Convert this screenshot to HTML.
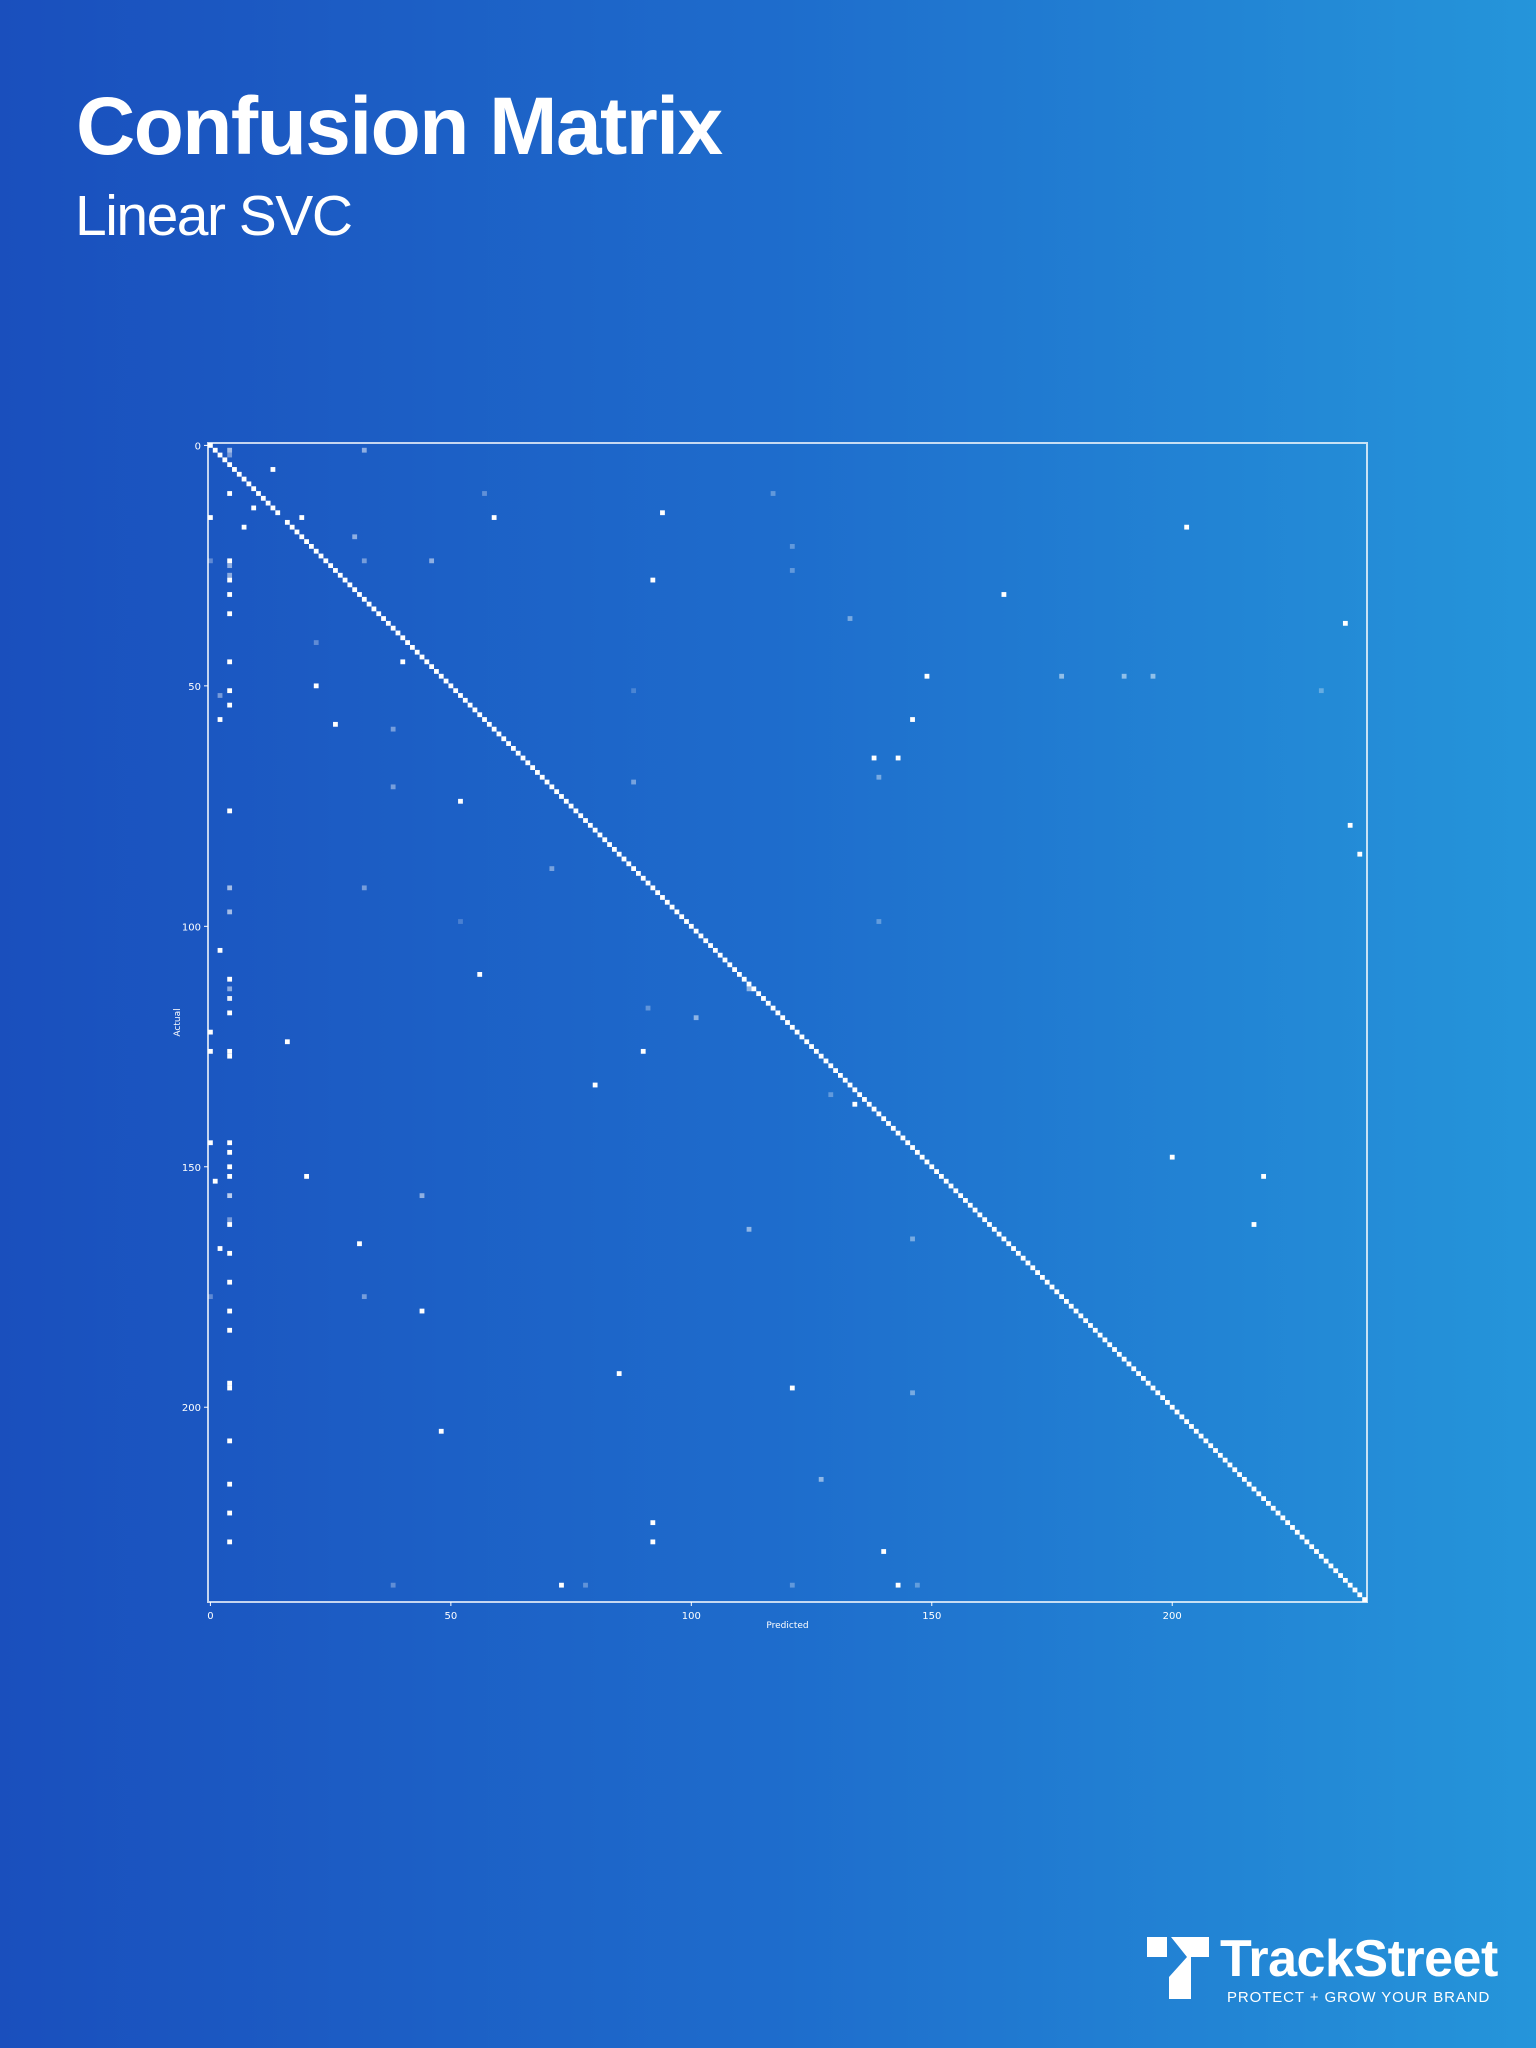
<!DOCTYPE html>
<html><head><meta charset="utf-8"><style>
html,body{margin:0;padding:0}
body{width:1536px;height:2048px;position:relative;overflow:hidden;background:linear-gradient(90deg,#1a4fbd 0%,#1e6ccc 50%,#2595da 100%);font-family:"Liberation Sans",sans-serif;color:#fff}
#title{position:absolute;left:76px;top:80px;font-size:82px;font-weight:bold;margin:0;letter-spacing:-1.5px}
#sub{position:absolute;left:75px;top:183px;font-size:57px;font-weight:normal;margin:0;letter-spacing:-1.5px}
#chart{position:absolute;left:0;top:0}
#logo{position:absolute;left:1147px;top:1937px}
</style></head><body>
<h1 id="title">Confusion Matrix</h1>
<h2 id="sub">Linear SVC</h2>
<svg id="chart" width="1536" height="2048"></svg>
<div id="logo">
<svg width="62" height="62" style="position:absolute;left:0;top:0">
<polygon points="0,0 20,0 20,20 0,20" fill="#fff"/><polygon points="24,0 62,0 62,20 44,20 44,62 22,62 22,40 40,20 24,0" fill="#fff"/></svg>
<div style="position:absolute;left:73px;top:-8px;font-size:52px;font-weight:bold;white-space:nowrap;letter-spacing:-0.5px">TrackStreet</div>
<div style="position:absolute;left:80px;top:52px;font-size:15px;white-space:nowrap;letter-spacing:0.9px">PROTECT + GROW YOUR BRAND</div>
</div>
<script>
const N = 241;
const xTicks = [0,50,100,150,200];
const yTicks = [0,50,100,150,200];
const offRows = [10,24,28,31,35,45,51,54,76,111,115,118,126,127,145,147,150,152,156,162,168,174,180,184,195,196,207,216,222,228,
5,13,17,15,15,15,14,17,28,31,37,45,48,50,57,57,58,65,65,74,79,85,105,110,122,126,124,126,133,137,145,153,152,148,152,162,166,167,180,193,196,205,224,228,230,237,237,
36,70,48,48,48,119,113,165,197,215,163,19,24,24,59,71,92,88,156,177,26,21,10,10,51,52,51,69,99,99,117,135,177,24,237,237,237,237,41,1,1,2,25,27,92,97,113,161];
const offCols = [4,4,4,4,4,4,4,4,4,4,4,4,4,4,4,4,4,4,4,4,4,4,4,4,4,4,4,4,4,4,
13,9,7,0,19,59,94,203,92,165,236,40,149,22,2,146,26,138,143,52,237,239,2,56,0,0,16,90,80,134,0,1,20,200,219,217,31,2,44,85,121,48,92,92,140,73,143,
133,88,177,190,196,101,112,146,146,127,112,30,46,32,38,38,32,71,44,32,121,121,57,117,231,2,88,139,139,52,91,129,0,0,38,78,121,147,22,32,4,4,4,4,4,4,4,4];
const offVals = [1,1,1,1,1,1,1,1,1,1,0.9,1,1,1,1,1,1,1,0.7,1,1,1,1,1,1,1,1,1,1,1,
1,1,1,1,1,1,1,1,1,1,1,1,1,1,1,1,1,1,1,1,1,1,1,1,1,1,1,1,1,1,1,1,1,1,1,1,1,1,1,1,1,1,1,1,1,1,1,
0.4,0.4,0.5,0.5,0.5,0.5,0.5,0.4,0.4,0.5,0.5,0.5,0.5,0.4,0.4,0.4,0.4,0.4,0.5,0.4,0.3,0.3,0.3,0.3,0.3,0.4,0.2,0.4,0.3,0.2,0.3,0.3,0.3,0.3,0.3,0.3,0.3,0.3,0.3,0.5,0.6,0.4,0.5,0.5,0.6,0.6,0.5,0.4];
const diagVals = [1,1,1,1,1,1,1,1,1,1,1,1,1,1,1,0,1,1,1,1,1,1,1,1,1,1,1,1,1,1,1,1,1,1,1,1,1,1,1,1,1,1,1,1,1,1,1,1,1,1,
1,1,1,1,1,1,1,1,1,1,1,1,1,1,1,1,1,1,1,1,1,1,1,1,1,1,1,1,1,1,1,1,1,1,1,1,1,1,1,1,1,1,1,1,1,1,1,1,1,1,
1,1,1,1,1,1,1,1,1,1,1,1,1,1,1,1,1,1,1,1,1,1,1,1,1,1,1,1,1,1,1,1,1,1,1,1,1,1,1,1,1,1,1,1,1,1,1,1,1,1,
1,1,1,1,1,1,1,1,1,1,1,1,1,1,1,1,1,1,1,1,1,1,1,1,1,1,1,1,1,1,1,1,1,1,1,1,1,1,1,1,1,1,1,1,1,1,1,1,1,1,
1,1,1,1,1,1,1,1,1,1,1,1,1,1,1,1,1,1,1,1,1,1,1,1,1,1,1,1,1,1,1,1,1,1,1,1,1,1,1,1,1];
const L=208, T=443, W=1159;
const cs = W/N;
function sx(c){return L + c*cs;}
function sy(r){return T + r*cs;}
const svg = document.getElementById('chart');
const NS='http://www.w3.org/2000/svg';
function mk(t,a){const e=document.createElementNS(NS,t);for(const k in a)e.setAttribute(k,a[k]);svg.appendChild(e);return e;}
function cell(r,c,v,name){
  if(v<=0) return;
  const e=mk('rect',{x:sx(c),y:sy(r),width:cs,height:cs,fill:'#fff','fill-opacity':v});
  
  
}
for(let i=0;i<diagVals.length;i++) cell(i,i,diagVals[i],'diagonal-cell');
for(let i=0;i<offRows.length;i++) cell(offRows[i],offCols[i],offVals[i],'misclassification-cell');
const frame=mk('rect',{x:L,y:T,width:W,height:W,fill:'none',stroke:'rgba(255,255,255,0.75)','stroke-width':2});


xTicks.forEach(t=>{
  mk('line',{x1:sx(t)+cs/2,x2:sx(t)+cs/2,y1:T+W,y2:T+W+4,stroke:'#fff','stroke-width':1});
  const e=mk('text',{x:sx(t)+cs/2,y:T+W+17,fill:'#fff','font-size':10,'text-anchor':'middle','font-family':'DejaVu Sans, sans-serif'});
  e.textContent=t;
  
  
});
yTicks.forEach(t=>{
  mk('line',{x1:L-4,x2:L,y1:sy(t)+cs/2,y2:sy(t)+cs/2,stroke:'#fff','stroke-width':1});
  const e=mk('text',{x:L-7,y:sy(t)+cs/2+4,fill:'#fff','font-size':10,'text-anchor':'end','font-family':'DejaVu Sans, sans-serif'});
  e.textContent=t;
  
  
});
const xt=mk('text',{x:L+W/2,y:T+W+26,fill:'#fff','font-size':9,'text-anchor':'middle','font-family':'DejaVu Sans, sans-serif'});
xt.textContent='Predicted';


const yt=mk('text',{x:180,y:T+W/2,fill:'#fff','font-size':9,'text-anchor':'middle','font-family':'DejaVu Sans, sans-serif',transform:'rotate(-90 180 '+(T+W/2)+')'});
yt.textContent='Actual';


</script>
</body></html>
